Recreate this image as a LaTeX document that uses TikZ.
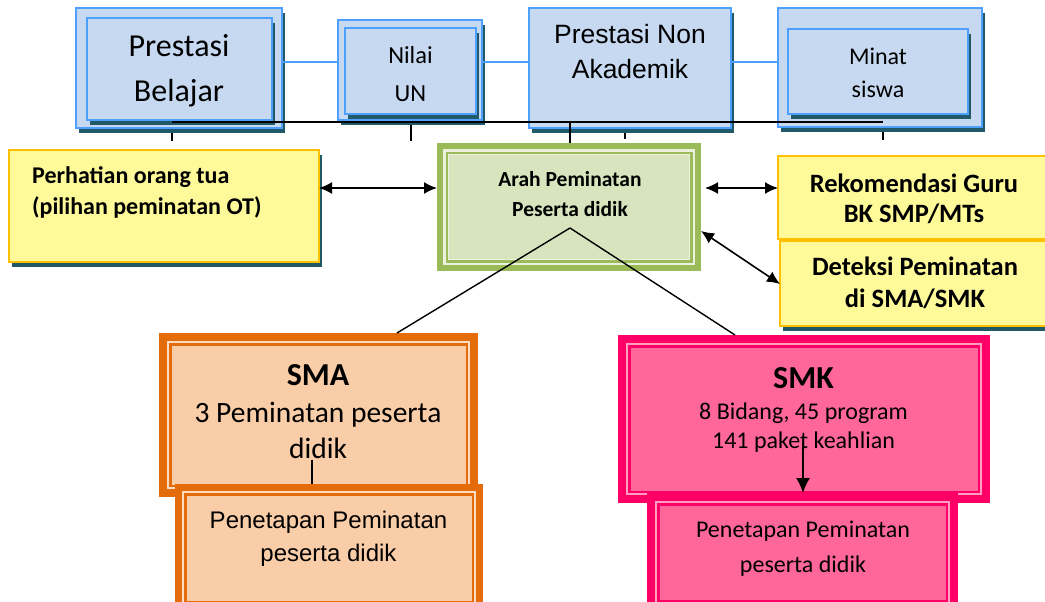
\documentclass[tikz,border=0pt]{standalone}
\usepackage{fontspec}
\newfontfamily\calfont{Carlito}
\newfontfamily\arifont{Liberation Sans}
\usetikzlibrary{fit,arrows.meta,calc,shadows}
\definecolor{bluefill}{HTML}{C6D9F1}
\definecolor{blueline}{HTML}{4DA0FF}
\definecolor{shadowc}{HTML}{215968}
\definecolor{yelfill}{HTML}{FFFA99}
\definecolor{yelline}{HTML}{FFC000}
\definecolor{greenB}{HTML}{9BBB59}
\definecolor{greenF}{HTML}{D7E4BD}
\definecolor{greenL}{HTML}{EBF1DE}
\definecolor{orangeB}{HTML}{E46C0A}
\definecolor{orangeF}{HTML}{F9CDA8}
\definecolor{orangeL}{HTML}{FCDCC2}
\definecolor{pinkB}{HTML}{FF0066}
\definecolor{pinkF}{HTML}{FF6699}
\definecolor{pinkL}{HTML}{FF9EC0}
\newcommand\myfs[1]{\fontsize{#1pt}{#1pt}\selectfont}
\newcommand\deco[5]{%
 \draw[draw=#2, line width=2pt] ([shift={(#5+1,#5+1)}]#1.north west) rectangle ([shift={(-#5-1,-#5-1)}]#1.south east);
 \draw[draw=#3, fill=#4, line width=2.5pt] ([shift={(#5+3.25,#5+3.25)}]#1.north west) rectangle ([shift={(-#5-3.25,-#5-3.25)}]#1.south east);}
\begin{document}
\begin{tikzpicture}[x=1pt,y=-1pt,
  box/.style={inner sep=0pt, outer sep=0pt},
  shad/.style={drop shadow={shadow xshift=3pt, shadow yshift=-5pt, fill=shadowc, opacity=1}},
  bluebox/.style={box, fill=bluefill, draw=blueline, line width=2pt, shad},
  yelbox/.style={box, fill=yelfill, draw=yelline, line width=2.5pt, shad},
  thick box/.style={box, fill=#1},
  txt/.style={anchor=base, inner sep=0pt},
  blk/.style={draw=black, line width=1.4pt},
  dbl/.style={blk, line width=1.6pt, {Latex[length=13pt,width=12pt]}-{Latex[length=13pt,width=12pt]}},
  conn/.style={draw=blueline, line width=2pt},
]
\clip (0,0) rectangle (1045,602);
% coordinates
\coordinate (y62) at (0,62);
\coordinate (busL) at (172,122);
\coordinate (busR) at (883,122);
\coordinate (s2) at (411,122);
\coordinate (s3) at (570,122);
\coordinate (s4) at (625,122);
% stubs (behind boxes)
\draw[blk] (busL) -- ++(0,19);
\draw[blk] (s2) -- ++(0,19);
\draw[blk] (s4) -- ++(0,17);
\draw[blk] (busR) -- ++(0,18);
% top boxes
\node[bluebox, fit={(76,8) (282,128)}] (b1o) {};
\node[bluebox, fit={(87,18) (272,120)}] (b1) {};
\node[bluebox, fit={(338,20) (482,120)}] (b2o) {};
\node[bluebox, fit={(345,28) (476,114)}] (b2) {};
\node[bluebox, fit={(529,8) (731,128)}] (b3) {};
\node[bluebox, fit={(778,8) (982,127)}] (b4o) {};
\node[bluebox, fit={(788,29) (968,114)}] (b4) {};
\draw[conn] (b1o.east |- y62) -- (b2o.west |- y62);
\draw[conn] (b2o.east |- y62) -- (b3.west |- y62);
\draw[conn] (b3.east |- y62) -- (b4o.west |- y62);
\draw[blk] (busL) -- (busR);
% side boxes
\node[yelbox, fit={(9,150) (319,262)}] (perh) {};
\node[yelbox, fit={(778,156) (1050,239)}] (reko) {};
\node[yelbox, fit={(780,241) (1050,326)}] (det) {};
% Arah
\node[thick box=greenB, fit={(437,143) (701,271)}] (arah) {};
\draw[draw=greenL, line width=2.5pt] ([shift={(7.25,7.25)}]arah.north west) rectangle ([shift={(-7.25,-7.25)}]arah.south east);
\draw[draw=greenB, fill=greenF, line width=2.5pt] ([shift={(9.75,9.75)}]arah.north west) rectangle ([shift={(-9.75,-9.75)}]arah.south east);
\draw[draw=greenL, line width=1pt] ([shift={(11.5,11.5)}]arah.north west) rectangle ([shift={(-11.5,-11.5)}]arah.south east);
\draw[blk] (s3) -- (arah.north -| s3);
% arrows
\coordinate (a1) at (0,188);
\coordinate (a3s) at (0,231);
\coordinate (a3e) at (0,284);
\draw[dbl] (perh.east |- a1) -- (arah.west |- a1);
\draw[dbl, shorten <=4pt] (arah.east |- a1) -- (reko.west |- a1);
\draw[dbl] (arah.east |- a3s) -- (det.west |- a3e);
% SMA / SMK
\node[thick box=orangeB, fit={(159,333) (478,497)}] (sma) {};
\deco{sma}{orangeL}{orangeB}{orangeF}{8}
\node[thick box=pinkB, fit={(618,335) (990,503)}] (smk) {};
\deco{smk}{pinkL}{pinkB}{pinkF}{8}
\coordinate (apex) at (570,228);
\coordinate (lx) at (397,0);
\coordinate (rx) at (735,0);
\draw[blk] (apex) -- (sma.north -| lx);
\draw[blk] (apex) -- (smk.north -| rx);
\node[thick box=orangeB, fit={(175,484) (483,612)}] (smapen) {};
\deco{smapen}{orangeL}{orangeB}{orangeF}{7}
\node[thick box=pinkB, fit={(647,493) (958,612)}] (smkpen) {};
\deco{smkpen}{pinkL}{pinkB}{pinkF}{8}
\coordinate (smav) at (312,460);
\coordinate (smkv) at (803,443);
\draw[blk] (smav) -- (smapen.north -| smav);
\draw[blk, line width=1.6pt, -{Latex[length=15pt,width=14pt]}] (smkv) -- (smkpen.north -| smkv);
% texts
\node[txt, font=\calfont\myfs{32}] (b1t1) at (179,57) {Prestasi};
\node[txt, font=\calfont\myfs{32}] (b1t2) at (179,102) {Belajar};
\node[txt, font=\calfont\myfs{24.5}] (b2t1) at (410.5,64) {Nilai};
\node[txt, font=\calfont\myfs{24.5}] (b2t2) at (410.5,102) {UN};
\node[txt, font=\arifont\myfs{26.5}] (b3t1) at (630,44) {Prestasi Non};
\node[txt, font=\arifont\myfs{26.5}] (b3t2) at (630,78) {Akademik};
\node[txt, font=\calfont\myfs{24}] (b4t1) at (878,65) {Minat};
\node[txt, font=\calfont\myfs{24}] (b4t2) at (878,97) {siswa};
\node[txt, anchor=base west, font=\calfont\bfseries\myfs{24}] (pt1) at (32,183) {Perhatian orang tua};
\node[txt, anchor=base west, font=\calfont\bfseries\myfs{24}] (pt2) at (32,214) {(pilihan peminatan OT)};
\node[txt, font=\calfont\bfseries\myfs{21.5}] (at1) at (570,186) {Arah Peminatan};
\node[txt, font=\calfont\bfseries\myfs{21.5}] (at2) at (570,216) {Peserta didik};
\node[txt, font=\calfont\bfseries\myfs{26.5}] (rt1) at (914,192) {Rekomendasi Guru};
\node[txt, font=\calfont\bfseries\myfs{26.5}] (rt2) at (914,222) {BK SMP/MTs};
\node[txt, font=\calfont\bfseries\myfs{26.5}] (dt1) at (915,275) {Deteksi Peminatan};
\node[txt, font=\calfont\bfseries\myfs{26.5}] (dt2) at (915,307) {di SMA/SMK};
\node[txt, font=\calfont\bfseries\myfs{32}] (st1) at (318,385) {SMA};
\node[txt, font=\calfont\myfs{29.5}] (st2) at (318,422) {3 Peminatan peserta};
\node[txt, font=\calfont\myfs{29.5}] (st3) at (318,458) {didik};
\node[txt, font=\arifont\myfs{24}] (sp1) at (328.5,528) {Penetapan Peminatan};
\node[txt, font=\arifont\myfs{24}] (sp2) at (328.5,561) {peserta didik};
\node[txt, font=\calfont\bfseries\myfs{32}] (kt1) at (803.5,388) {SMK};
\node[txt, font=\calfont\myfs{24}] (kt2) at (803.5,419) {8 Bidang, 45 program};
\node[txt, font=\calfont\myfs{24}] (kt3) at (803.5,448) {141 paket keahlian};
\node[txt, font=\calfont\myfs{24}] (kp1) at (803,537) {Penetapan Peminatan};
\node[txt, font=\calfont\myfs{24}] (kp2) at (803,572) {peserta didik};
\end{tikzpicture}
\end{document}
